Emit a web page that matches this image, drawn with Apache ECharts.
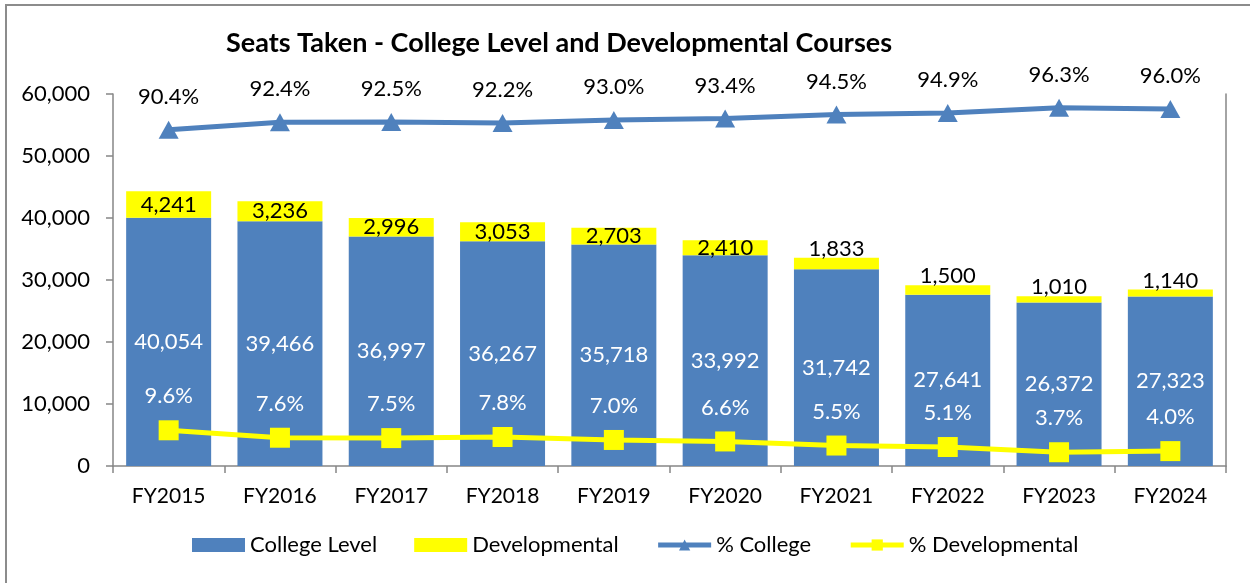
<!DOCTYPE html>
<html>
<head>
<meta charset="utf-8">
<script src="https://cdn.jsdelivr.net/npm/echarts@6/dist/echarts.min.js"></script>
<style>
  html, body { margin: 0; padding: 0; background: #fff; }
  #chart { width: 1250px; height: 583px; }
</style>
</head>
<body>
<div id="chart"></div>
<script>
var years = ['FY2015', 'FY2016', 'FY2017', 'FY2018', 'FY2019', 'FY2020', 'FY2021', 'FY2022', 'FY2023', 'FY2024']
var collegeSeats = [40054, 39466, 36997, 36267, 35718, 33992, 31742, 27641, 26372, 27323]
var devSeats = [4241, 3236, 2996, 3053, 2703, 2410, 1833, 1500, 1010, 1140]
var pctCollege = [90.4, 92.4, 92.5, 92.2, 93.0, 93.4, 94.5, 94.9, 96.3, 96.0]
var pctDev = [9.6, 7.6, 7.5, 7.8, 7.0, 6.6, 5.5, 5.1, 3.7, 4.0]

var FONT = 'Lato'
var BLUE = '#4F81BD'
var YELLOW = '#FFFF00'
var AXIS = '#868686'

function fmt(v) {
  return v.toLocaleString('en-US')
}

// small developmental segments get their label above the bar
var devData = devSeats.map(function (v) {
  if (v < 2000) {
    return { value: v, label: { position: 'top', distance: -2 } }
  }
  return v
})

var chart = echarts.init(document.getElementById('chart'))
chart.setOption({
  animation: false,
  textStyle: { fontFamily: FONT },
  graphic: [{
    type: 'rect',
    shape: { x: 6, y: 5, width: 1300, height: 700 },
    style: { fill: 'none', stroke: '#8c8c8c', lineWidth: 2 },
    silent: true
  }],
  title: {
    text: 'Seats Taken - College Level and Developmental Courses',
    left: 554,
    textAlign: 'center',
    top: 25,
    textStyle: { fontFamily: FONT, fontSize: 27, fontWeight: 'bold', color: '#000' }
  },
  grid: { left: 113, right: 24, top: 94, bottom: 117 },
  legend: {
    bottom: 22,
    left: 187,
    itemGap: 37,
    itemWidth: 53,
    itemHeight: 14,
    textStyle: { fontFamily: FONT, fontSize: 22, color: '#000' },
    data: [
      { name: 'College Level', icon: 'rect' },
      { name: 'Developmental', icon: 'rect' },
      { name: '% College', lineStyle: { width: 5 } },
      { name: '% Developmental', lineStyle: { width: 5 } }
    ]
  },
  xAxis: {
    type: 'category',
    data: years,
    axisLine: { lineStyle: { color: AXIS, width: 1.5 } },
    axisTick: { show: true, length: 7, lineStyle: { color: AXIS, width: 1.5 } },
    axisLabel: { margin: 20, fontSize: 21, color: '#000', fontFamily: FONT }
  },
  yAxis: [{
    type: 'value',
    min: 0,
    max: 60000,
    interval: 10000,
    axisLine: { show: true, lineStyle: { color: AXIS, width: 1.5 } },
    axisTick: { show: true, length: 7, lineStyle: { color: AXIS, width: 1.5 } },
    splitLine: { show: false },
    axisLabel: { margin: 23, fontSize: 22, color: '#000', fontFamily: FONT, formatter: fmt }
  }, {
    type: 'value',
    min: 0,
    max: 100,
    position: 'right',
    axisLine: { show: true, lineStyle: { color: AXIS, width: 1.5 } },
    axisTick: { show: false },
    axisLabel: { show: false },
    splitLine: { show: false }
  }],
  series: [{
    name: 'College Level',
    type: 'bar',
    stack: 'seats',
    barWidth: 85,
    itemStyle: { color: BLUE },
    label: {
      show: true,
      position: 'inside',
      color: '#fff',
      fontSize: 22,
      fontFamily: FONT,
      formatter: function (p) { return fmt(p.value) }
    },
    data: collegeSeats
  }, {
    name: 'Developmental',
    type: 'bar',
    stack: 'seats',
    itemStyle: { color: YELLOW },
    label: {
      show: true,
      position: 'inside',
      color: '#000',
      fontSize: 22,
      fontFamily: FONT,
      formatter: function (p) { return fmt(p.value) }
    },
    data: devData
  }, {
    name: '% College',
    type: 'line',
    yAxisIndex: 1,
    symbol: 'triangle',
    symbolSize: [20, 18],
    lineStyle: { color: BLUE, width: 5 },
    itemStyle: { color: BLUE },
    label: {
      show: true,
      position: 'top',
      distance: 13,
      color: '#000',
      fontSize: 22,
      fontFamily: FONT,
      formatter: function (p) { return p.value.toFixed(1) + '%' }
    },
    data: pctCollege,
    z: 5
  }, {
    name: '% Developmental',
    type: 'line',
    yAxisIndex: 1,
    symbol: 'rect',
    symbolSize: 20,
    lineStyle: { color: YELLOW, width: 5 },
    itemStyle: { color: YELLOW },
    label: {
      show: true,
      position: 'top',
      distance: 13,
      color: '#fff',
      fontSize: 22,
      fontFamily: FONT,
      formatter: function (p) { return p.value.toFixed(1) + '%' }
    },
    data: pctDev,
    z: 5
  }]
})
</script>
</body>
</html>
